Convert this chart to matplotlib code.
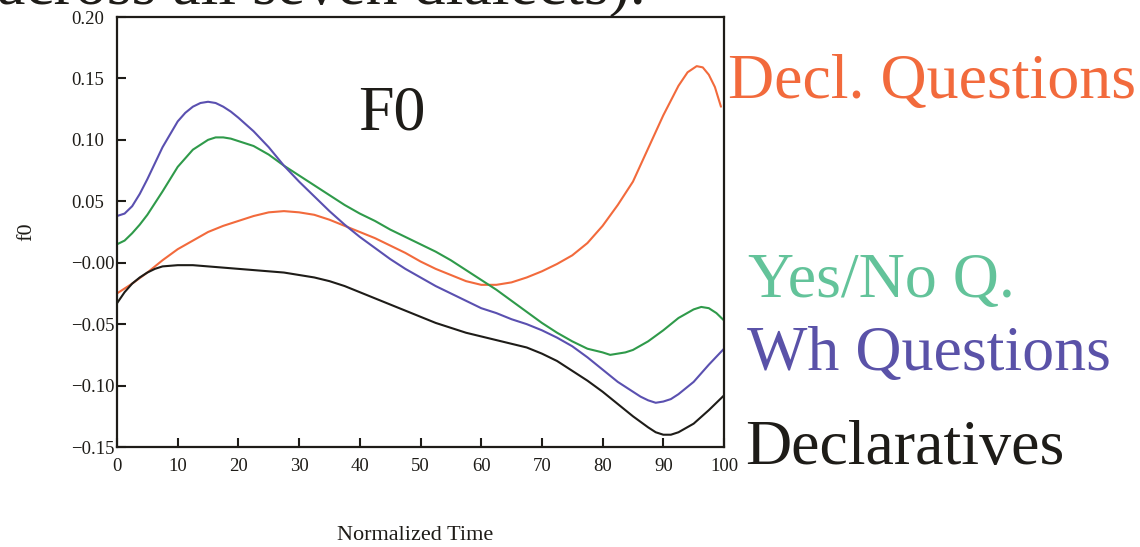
import matplotlib
matplotlib.use("Agg")
import matplotlib.pyplot as plt
from matplotlib.ticker import FixedLocator, FixedFormatter

plt.rcParams['font.family'] = ['Liberation Serif', 'DejaVu Serif']

# Normalized time (percent of utterance) and mean f0 contour per sentence type
time_wh = [0, 1.25, 2.5, 3.75, 5, 7.5, 10, 11.25, 12.5, 13.75, 15, 16.25, 17.5,
           18.75, 20, 22.5, 25, 27.5, 30, 32.5, 35, 37.5, 40, 42.5, 45, 47.5,
           50, 52.5, 55, 57.5, 60, 62.5, 65, 67.5, 70, 72.5, 75, 77.5, 80,
           82.5, 85, 86.25, 87.5, 88.75, 90, 91.25, 92.5, 95, 97.5, 100]
wh_questions = [0.038, 0.040, 0.046, 0.056, 0.068, 0.094, 0.115, 0.122, 0.127,
                0.130, 0.131, 0.130, 0.127, 0.123, 0.118, 0.107, 0.094, 0.079,
                0.066, 0.054, 0.042, 0.031, 0.021, 0.012, 0.003, -0.005, -0.012,
                -0.019, -0.025, -0.031, -0.037, -0.041, -0.046, -0.050, -0.055,
                -0.061, -0.068, -0.077, -0.087, -0.097, -0.105, -0.109, -0.112,
                -0.114, -0.113, -0.111, -0.107, -0.097, -0.083, -0.070]

time_yn = [0, 1.25, 2.5, 3.75, 5, 7.5, 10, 12.5, 15, 16.25, 17.5, 18.75, 20,
           22.5, 25, 27.5, 30, 32.5, 35, 37.5, 40, 42.5, 45, 47.5, 50, 52.5,
           55, 57.5, 60, 62.5, 65, 67.5, 70, 72.5, 75, 77.5, 80, 81.25, 82.5,
           83.75, 85, 87.5, 90, 92.5, 95, 96.25, 97.5, 98.75, 100]
yes_no = [0.015, 0.018, 0.024, 0.031, 0.039, 0.058, 0.078, 0.092, 0.100, 0.102,
          0.102, 0.101, 0.099, 0.095, 0.088, 0.079, 0.071, 0.063, 0.055, 0.047,
          0.040, 0.034, 0.027, 0.021, 0.015, 0.009, 0.002, -0.006, -0.014,
          -0.022, -0.031, -0.040, -0.049, -0.057, -0.064, -0.070, -0.073,
          -0.075, -0.074, -0.073, -0.071, -0.064, -0.055, -0.045, -0.038,
          -0.036, -0.037, -0.041, -0.047]

time_dc = [0, 1.25, 2.5, 3.75, 5, 6.25, 7.5, 10, 12.5, 15, 17.5, 20, 22.5, 25,
           27.5, 30, 32.5, 35, 37.5, 40, 42.5, 45, 47.5, 50, 52.5, 55, 57.5,
           60, 62.5, 65, 67.5, 70, 72.5, 75, 77.5, 80, 82.5, 85, 87.5, 88.75,
           90, 91.25, 92.5, 95, 97.5, 100]
declaratives = [-0.033, -0.024, -0.017, -0.012, -0.008, -0.005, -0.003, -0.002,
                -0.002, -0.003, -0.004, -0.005, -0.006, -0.007, -0.008, -0.010,
                -0.012, -0.015, -0.019, -0.024, -0.029, -0.034, -0.039, -0.044,
                -0.049, -0.053, -0.057, -0.060, -0.063, -0.066, -0.069, -0.074,
                -0.080, -0.088, -0.096, -0.105, -0.115, -0.125, -0.134, -0.138,
                -0.140, -0.140, -0.138, -0.131, -0.120, -0.108]

time_dq = [0, 2.5, 5, 7.5, 10, 12.5, 15, 17.5, 20, 22.5, 25, 27.5, 30, 32.5, 35,
           37.5, 40, 42.5, 45, 47.5, 50, 52.5, 55, 57.5, 60, 62.5, 65, 67.5, 70,
           72.5, 75, 77.5, 80, 82.5, 85, 87.5, 90, 92.5, 94, 95.5, 96.5, 97.5,
           98.5, 99.5]
decl_questions = [-0.025, -0.017, -0.008, 0.002, 0.011, 0.018, 0.025, 0.030,
                  0.034, 0.038, 0.041, 0.042, 0.041, 0.039, 0.035, 0.030, 0.025,
                  0.020, 0.014, 0.008, 0.001, -0.005, -0.010, -0.015, -0.018,
                  -0.018, -0.016, -0.012, -0.007, -0.001, 0.006, 0.016, 0.030,
                  0.047, 0.066, 0.093, 0.120, 0.144, 0.155, 0.160, 0.159, 0.153,
                  0.143, 0.127]

y_ticks = [0.20, 0.15, 0.10, 0.05, 0.0, -0.05, -0.10, -0.15]
y_tick_labels = ['0.20', '0.15', '0.10', '0.05', '\u22120.00', '\u22120.05',
                 '\u22120.10', '\u22120.15']
x_ticks = [0, 10, 20, 30, 40, 50, 60, 70, 80, 90, 100]
x_tick_labels = ['0', '10', '20', '30', '40', '50', '60', '70', '80', '90', '100']

W, H = 1140, 547
fig = plt.figure(figsize=(W / 100, H / 100), dpi=100)
ax = fig.add_axes([117 / W, 1 - 447 / H, (724 - 117) / W, (447 - 17) / H])

c_red = '#f26a3c'
c_green = '#2f9a4a'
c_blue = '#5a50b0'
c_black = '#1e1c18'

line_kw = dict(lw=1.5, solid_joinstyle='round', solid_capstyle='round')
ax.plot(time_dq, decl_questions, color=c_red, **line_kw)
ax.plot(time_yn, yes_no, color=c_green, **line_kw)
ax.plot(time_wh, wh_questions, color=c_blue, **line_kw)
ax.plot(time_dc, declaratives, color=c_black, **line_kw)

ax.set_xlim(0, 100)
ax.set_ylim(-0.15, 0.20)
ax.yaxis.set_major_locator(FixedLocator(y_ticks))
ax.yaxis.set_major_formatter(FixedFormatter(y_tick_labels))
ax.xaxis.set_major_locator(FixedLocator(x_ticks))
ax.xaxis.set_major_formatter(FixedFormatter(x_tick_labels))
ax.tick_params(axis='both', direction='in', length=6.5, width=1.5,
               labelsize=13.5, colors=c_black)
ax.tick_params(axis='x', pad=8)
# y labels are left-aligned in a column just left of the axis
ax.tick_params(axis='y', pad=33)
for lab in ax.get_yticklabels():
    lab.set_horizontalalignment('left')
ax.tick_params(top=False, right=False)
for s in ax.spines.values():
    s.set_linewidth(1.6)
    s.set_color(c_black)

big = dict(fontsize=46, ha='left', va='baseline', transform=fig.transFigure)
fig.text(358 / W, 1 - 130 / H, 'F0', color=c_black, **big)
fig.text(728 / W, 1 - 98 / H, 'Decl. Questions', color='#f26a3c', **big)
fig.text(748 / W, 1 - 297 / H, 'Yes/No Q.', color='#63c39a', **big)
fig.text(747 / W, 1 - 370 / H, 'Wh Questions', color='#5a52a8', **big)
fig.text(745 / W, 1 - 464 / H, 'Declaratives', color=c_black, **big)

fig.text(646 / W, 1 - 4 / H, 'across all seven dialects).', fontsize=46,
         color=c_black, ha='right', va='baseline')

fig.text(415 / W, 1 - 536 / H, 'Normalized Time', fontsize=16, color=c_black,
         ha='center', va='center')
fig.text(27 / W, 1 - 232 / H, 'f0', fontsize=16, color=c_black, rotation=90,
         ha='center', va='center')

fig.savefig('out.png', dpi=100)
